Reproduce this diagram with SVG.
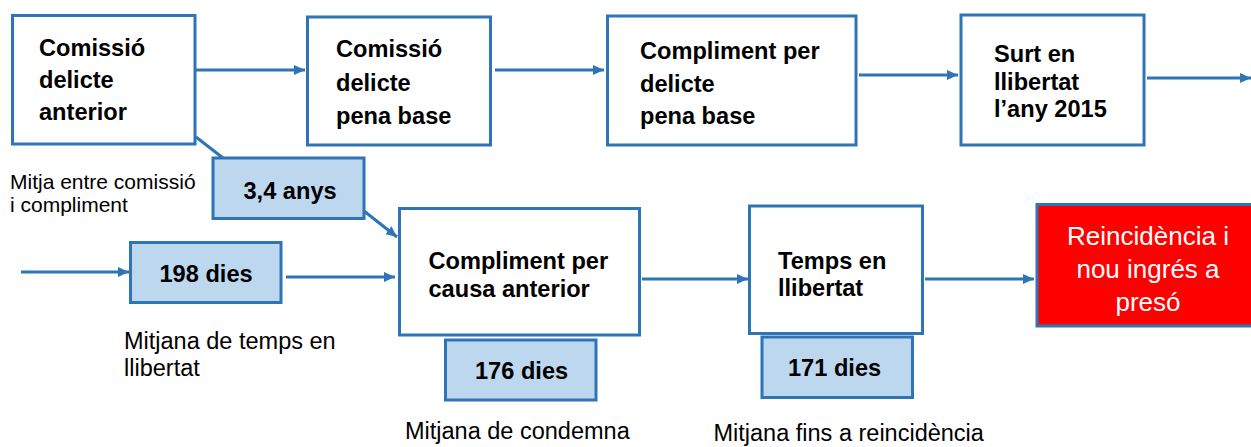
<svg xmlns="http://www.w3.org/2000/svg" width="1251" height="447" viewBox="0 0 1251 447">
<style>
.box{fill:#FFFFFF;stroke:#2E75B6;stroke-width:3}
.val{fill:#BDD7EE;stroke:#2E75B6;stroke-width:3}
.red{fill:#FF0000;stroke:#2E75B6;stroke-width:3}
.b{font-family:"Liberation Sans",Arial,sans-serif;font-weight:bold;font-size:23.6px;fill:#000}
.r{font-family:"Liberation Sans",Arial,sans-serif;font-size:23.5px;fill:#000}
.s{font-family:"Liberation Sans",Arial,sans-serif;font-size:21px;fill:#000}
.w{font-family:"Liberation Sans",Arial,sans-serif;font-size:26px;fill:#FFF;text-anchor:middle}
.c{fill:none;stroke:#2E75B6;stroke-width:3}
</style>
<defs>
<marker id="ah" markerUnits="userSpaceOnUse" markerWidth="12" markerHeight="10" refX="11" refY="5" orient="auto">
<path d="M0,0 L11,5 L0,10 z" fill="#2E75B6"/>
</marker>
</defs>
<rect width="1251" height="447" fill="#FFFFFF"/>
<g id="connectors">
<line class="c" x1="195" y1="70" x2="305" y2="70" marker-end="url(#ah)"/>
<line class="c" x1="495" y1="70" x2="604" y2="70" marker-end="url(#ah)"/>
<line class="c" x1="859" y1="75" x2="958" y2="75" marker-end="url(#ah)"/>
<line class="c" x1="1147" y1="78" x2="1251" y2="78" marker-end="url(#ah)"/>
<line class="c" x1="196" y1="137" x2="223" y2="158"/>
<line class="c" x1="364" y1="211" x2="397" y2="237" marker-end="url(#ah)"/>
<line class="c" x1="21" y1="272" x2="129" y2="272" marker-end="url(#ah)"/>
<line class="c" x1="286" y1="277" x2="395" y2="277" marker-end="url(#ah)"/>
<line class="c" x1="642" y1="279" x2="748" y2="279" marker-end="url(#ah)"/>
<line class="c" x1="925" y1="279" x2="1034" y2="279" marker-end="url(#ah)"/>
</g>
<g id="n1">
<rect class="box" x="12.5" y="15.5" width="182.5" height="128.5"/>
<text class="b" x="39" y="56">Comissió</text>
<text class="b" x="39" y="88">delicte</text>
<text class="b" x="39" y="120">anterior</text>
</g>
<g id="n2">
<rect class="box" x="307.5" y="17" width="183" height="128"/>
<text class="b" x="336" y="57">Comissió</text>
<text class="b" x="336" y="91">delicte</text>
<text class="b" x="336" y="123.5">pena base</text>
</g>
<g id="n3">
<rect class="box" x="607.5" y="16" width="248.5" height="129"/>
<text class="b" x="640" y="59">Compliment per</text>
<text class="b" x="640" y="92">delicte</text>
<text class="b" x="640" y="124">pena base</text>
</g>
<g id="n4">
<rect class="box" x="961" y="15" width="183" height="130"/>
<text class="b" x="994" y="62">Surt en</text>
<text class="b" x="994" y="90">llibertat</text>
<text class="b" x="994" y="117">l’any 2015</text>
</g>
<g id="v34">
<rect class="val" x="213" y="158" width="151" height="60.5"/>
<text class="b" x="243.5" y="199">3,4 anys</text>
</g>
<g id="lbl1">
<text class="s" x="10" y="188.5">Mitja entre comissió</text>
<text class="s" x="10" y="212">i compliment</text>
</g>
<g id="v198">
<rect class="val" x="130.5" y="242.5" width="150.5" height="60"/>
<text class="b" x="159.5" y="282">198 dies</text>
</g>
<g id="lbl2">
<text class="r" x="124" y="349">Mitjana de temps en</text>
<text class="r" x="124" y="376">llibertat</text>
</g>
<g id="n5">
<rect class="box" x="399.5" y="208.5" width="240" height="126.5"/>
<text class="b" x="428.5" y="268.5">Compliment per</text>
<text class="b" x="428.5" y="297">causa anterior</text>
</g>
<g id="v176">
<rect class="val" x="445.5" y="340" width="150.5" height="60"/>
<text class="b" x="475" y="379">176 dies</text>
</g>
<g id="lbl3">
<text class="r" x="405" y="438.5">Mitjana de condemna</text>
</g>
<g id="n6">
<rect class="box" x="749.5" y="206" width="173" height="127.5"/>
<text class="b" x="778" y="268.5">Temps en</text>
<text class="b" x="778" y="296">llibertat</text>
</g>
<g id="v171">
<rect class="val" x="762" y="337" width="150.5" height="60.5"/>
<text class="b" x="788" y="376">171 dies</text>
</g>
<g id="lbl4">
<text class="r" x="713.5" y="441">Mitjana fins a reincidència</text>
</g>
<g id="n7">
<rect class="red" x="1037" y="204.5" width="220" height="121.5"/>
<text class="w" x="1148" y="245">Reincidència i</text>
<text class="w" x="1148" y="278">nou ingrés a</text>
<text class="w" x="1148" y="311">presó</text>
</g>
</svg>
